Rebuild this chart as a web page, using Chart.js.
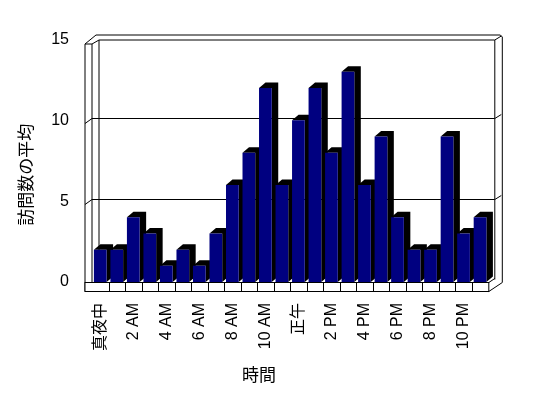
<!DOCTYPE html>
<html>
<head>
<meta charset="utf-8">
<script src="https://cdn.jsdelivr.net/npm/chart.js@4/dist/chart.umd.min.js"></script>
<style>
    body { margin: 0; background: #fff; }
    canvas { display: block; }
</style>
</head>
<body>
<canvas id="myChart" width="548" height="398"></canvas>
<script>
// hours of the day and the average number of visits for each
const hours = [0, 1, 2, 3, 4, 5, 6, 7, 8, 9, 10, 11, 12, 13, 14, 15, 16, 17, 18, 19, 20, 21, 22, 23];
const visits = [2, 2, 4, 3, 1, 2, 1, 3, 6, 8, 12, 6, 10, 12, 8, 13, 6, 9, 4, 2, 2, 9, 3, 4];
// only every second hour gets a label
const hourLabels = ['真夜中', '2 AM', '4 AM', '6 AM', '8 AM', '10 AM', '正午', '2 PM', '4 PM', '6 PM', '8 PM', '10 PM'];
const yTicks = [0, 5, 10, 15];
const xTitle = '時間';
const yTitle = '訪問数の平均';

const DX = 6.5, DY = -5.5;   // depth of the bars
const tickFont = { family: "'Liberation Sans', 'Noto Sans CJK JP', sans-serif", size: 16 };

// back wall, left wall, floor and grid lines of the 3d box
const frame3d = {
    id: 'frame3d',
    beforeDatasetsDraw(chart) {
        const ctx = chart.ctx;
        const a = chart.chartArea;
        const ys = chart.scales.y;
        const xs = chart.scales.x;
        const L = a.left, R = a.right, T = a.top, B = a.bottom;
        const fx = L - 7.5, ix = L - 0.5, bx = L + 6.5;   // left wall lines
        const rIn = R + 6, rOut = R + 13.5;               // right edge of back wall
        const line = (pts) => {
            ctx.beginPath();
            ctx.moveTo(pts[0][0], pts[0][1]);
            for (let i = 1; i < pts.length; i++) ctx.lineTo(pts[i][0], pts[i][1]);
            ctx.stroke();
        };
        ctx.save();
        ctx.strokeStyle = '#000';
        ctx.lineWidth = 1;
        ctx.translate(0.5, 0.5);
        ctx.fillStyle = '#fff';

        // grid lines on the walls
        yTicks.slice(1, -1).forEach(v => {
            const y = Math.round(ys.getPixelForValue(v));
            line([[fx, y + 3], [ix, y - 2], [bx, y - 2], [rIn, y - 2], [rOut - 1, y - 6]]);
        });

        // left wall
        line([[fx, T + 4], [fx, B + 9]]);
        line([[ix, T + 4], [ix, B]]);
        line([[bx, T], [bx, B]]);
        line([[fx, T + 4], [ix, T + 4], [bx, T]]);
        line([[fx, T + 4], [fx + 11, T - 5]]);

        // back wall top and right side
        line([[fx + 11, T - 5], [rOut - 2, T - 5], [rOut, T - 3], [rOut, B]]);
        line([[bx, T], [rIn, T], [rOut - 1, T - 4]]);
        line([[rIn, T], [rIn, B - 3]]);

        // floor front face with one cell per category
        ctx.fillRect(fx, B, R - fx, 9);
        ctx.strokeRect(fx, B, R - fx, 9);
        for (let i = 1; i < hours.length; i++) {
            const x = Math.round((xs.getPixelForValue(i - 1) + xs.getPixelForValue(i)) / 2);
            line([[x, B], [x, B + 9]]);
        }
        line([[R, B + 9], [rOut, B]]);
        line([[R, B], [rIn, B - 4]]);
        ctx.restore();

        // black top and side of every bar, fronts are drawn by chart.js on top
        const meta = chart.getDatasetMeta(0);
        ctx.save();
        ctx.fillStyle = '#000';
        meta.data.forEach(bar => {
            const p = bar.getProps(['x', 'y', 'base', 'width'], true);
            const l = p.x - p.width / 2, r = p.x + p.width / 2;
            ctx.beginPath();
            ctx.moveTo(l, p.y);
            ctx.lineTo(l + DX, p.y + DY);
            ctx.lineTo(r + DX, p.y + DY);
            ctx.lineTo(r + DX, p.base + DY);
            ctx.lineTo(r, p.base);
            ctx.lineTo(r, p.y);
            ctx.closePath();
            ctx.fill();
        });
        ctx.restore();
    },
    afterDraw(chart) {
        const ctx = chart.ctx;
        const a = chart.chartArea;
        ctx.save();
        ctx.fillStyle = '#000';
        ctx.font = "17px 'Noto Sans CJK JP', sans-serif";
        ctx.textAlign = 'center';
        ctx.textBaseline = 'middle';
        ctx.fillText(xTitle, a.left + 167, a.bottom + 93);
        ctx.translate(26, (a.top + a.bottom) / 2 + 14);
        ctx.rotate(-Math.PI / 2);
        ctx.fillText(yTitle, 0, 0);
        ctx.restore();
    }
};

const data = {
    labels: hours,
    datasets: [{
        data: visits,
        backgroundColor: '#000080',
        borderColor: '#000',
        borderWidth: 0,
        barPercentage: 0.77,
        categoryPercentage: 1
    }]
};

const config = {
    type: 'bar',
    data: data,
    options: {
        responsive: false,
        animation: false,
        layout: { padding: { left: 47, right: 59.7, top: 39.5, bottom: 36 } },
        plugins: {
            legend: { display: false },
            tooltip: { enabled: false }
        },
        scales: {
            x: {
                grid: { display: false, drawTicks: false },
                border: { display: false },
                afterFit: s => { s.height = 80; },
                ticks: {
                    color: '#000',
                    font: tickFont,
                    padding: 21,
                    autoSkip: false,
                    minRotation: 90,
                    maxRotation: 90,
                    callback: (v, i) => (i % 2 === 0 ? hourLabels[i / 2] : '')
                }
            },
            y: {
                min: 0,
                max: 15,
                grid: { display: false, drawTicks: false },
                border: { display: false },
                afterFit: s => { s.width = 45; },
                ticks: {
                    color: '#000',
                    font: tickFont,
                    padding: 23,
                    stepSize: 5
                }
            }
        }
    },
    plugins: [frame3d]
};

const myChart = new Chart(document.getElementById('myChart'), config);
</script>
</body>
</html>
